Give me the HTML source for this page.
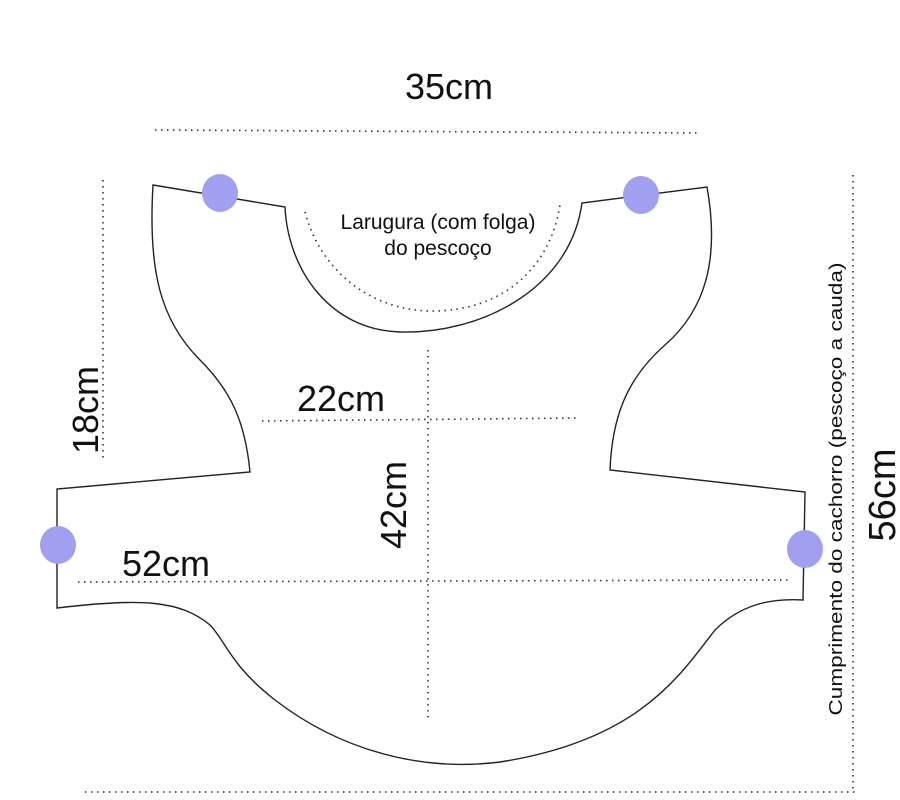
<!DOCTYPE html>
<html><head><meta charset="utf-8"><style>html,body{margin:0;padding:0;background:#fff}svg{display:block}</style></head>
<body>
<svg width="900" height="800" viewBox="0 0 900 800" xmlns="http://www.w3.org/2000/svg" font-family="Liberation Sans, Arial, sans-serif">
<rect width="900" height="800" fill="#fff"/>
<g fill="none" stroke="#222" stroke-width="1.4">
<path d="M153,185 L285,207 C288,270 330,330 400,332 C480,334 570,290 582,203 L707,187 C720,260 705,310 665,345 C625,380 612,420 610,470 L805,492 L803,600 C770,598 740,605 715,630 C680,675 640,740 500,762 C420,772 340,750 275,700 C230,665 225,640 210,625 C180,600 140,598 57,608 L57,489 L250,472 C245,420 230,390 200,360 C160,320 148,270 153,185 Z"/>
</g>
<g fill="none" stroke="#333" stroke-width="1.6" stroke-dasharray="1.5,4.5">
<line x1="155" y1="130" x2="700" y2="133"/>
<line x1="103" y1="180" x2="103" y2="462"/>
<line x1="853" y1="175" x2="853" y2="790"/>
<line x1="85" y1="792" x2="856" y2="792"/>
<line x1="262" y1="421" x2="580" y2="418"/>
<line x1="428" y1="350" x2="428" y2="720"/>
<line x1="78" y1="582" x2="790" y2="580"/>
<path d="M305,212 C320,270 370,310 430,311 C500,312 550,270 560,205"/>
</g>
<g fill="#a09ff0">
<ellipse cx="220" cy="193" rx="18" ry="19"/>
<ellipse cx="641" cy="195" rx="18" ry="19"/>
<ellipse cx="58" cy="545" rx="18" ry="19"/>
<ellipse cx="805" cy="549" rx="18" ry="19"/>
</g>
<g fill="#111">
<text x="449" y="99" font-size="36" text-anchor="middle">35cm</text>
<text x="297" y="411" font-size="36">22cm</text>
<text x="122" y="576" font-size="36">52cm</text>
<text transform="translate(98,410) rotate(-90)" font-size="36" text-anchor="middle">18cm</text>
<text transform="translate(406,505) rotate(-90)" font-size="36" text-anchor="middle">42cm</text>
<text transform="translate(895,495) rotate(-90)" font-size="38" text-anchor="middle">56cm</text>
<text transform="translate(842,489) rotate(-90)" font-size="18" text-anchor="middle" textLength="453" lengthAdjust="spacingAndGlyphs">Cumprimento do cachorro (pescoço a cauda)</text>
<text x="438" y="229" font-size="21" text-anchor="middle">Larugura (com folga)</text>
<text x="438" y="255" font-size="21" text-anchor="middle">do pescoço</text>
</g>
</svg>
</body></html>
